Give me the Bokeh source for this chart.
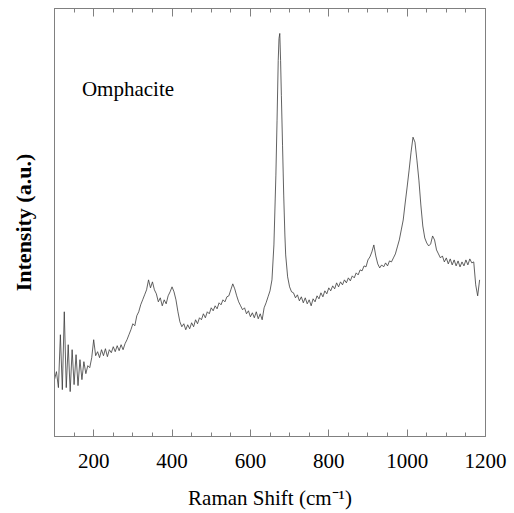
from bokeh.plotting import figure
from bokeh.models import Range1d, LinearAxis, SingleIntervalTicker, FixedTicker, Label
from bokeh.embed import file_html
from bokeh.resources import INLINE

# Raman shift grid (cm^-1)
shift_low = list(range(100, 665, 5))
shift_peak = [665, 668, 671, 673, 675, 677, 679, 682, 685, 688]
shift_high = list(range(690, 1190, 5))

# Intensity (a.u.)
int_low = [
    57, 65, 49, 102, 47, 125, 49, 92, 45, 87, 52, 82, 51, 77, 57, 75, 63, 71, 69, 79,
    97, 81, 85, 79, 87, 81, 88, 80, 87, 84, 90, 85, 91, 86, 92, 87, 93, 97, 102, 107,
    113, 111, 121, 125, 132, 137, 142, 147, 157, 149, 155, 147, 143, 135, 139, 131, 137, 133, 141, 145,
    150, 145, 137, 125, 115, 110, 113, 107, 112, 108, 114, 110, 117, 113, 119, 117, 123, 119, 125, 123,
    129, 126, 131, 128, 134, 132, 137, 135, 140, 141, 147, 153, 148, 141, 135, 131, 127, 129, 123, 126,
    120, 124, 119, 125, 118, 123, 117, 129, 134, 140, 146, 157, 192,
]
int_peak = [262, 317, 377, 399, 404, 377, 342, 292, 242, 202]
int_high = [
    182, 160, 150, 145, 144, 139, 142, 136, 140, 134, 139, 133, 137, 131, 138, 135, 141, 138, 144, 140,
    146, 143, 149, 146, 151, 148, 154, 150, 155, 152, 157, 154, 159, 156, 161, 159, 164, 162, 167, 166,
    171, 170, 177, 180, 185, 192, 181, 173, 169, 172, 170, 174, 171, 176, 175, 179, 183, 190, 197, 207,
    217, 234, 250, 267, 285, 300, 295, 277, 257, 232, 211, 199, 194, 191, 193, 201, 197, 187, 183, 179,
    181, 175, 179, 173, 178, 172, 177, 171, 176, 170, 175, 171, 177, 172, 178, 174, 175, 152, 141, 157,
]

shift = shift_low + shift_peak + shift_high
intensity = int_low + int_peak + int_high

major_ticks = [200, 400, 600, 800, 1000, 1200]
minor_ticks = [150, 250, 300, 350, 450, 500, 550, 650, 700, 750, 850, 900, 950, 1050, 1100, 1150]
sample_name = "Omphacite"

FONT = "Liberation Serif"
FRAME = "#808080"

p = figure(
    width=512, height=512,
    x_range=Range1d(100, 1200), y_range=Range1d(0, 429),
    output_backend="svg", toolbar_location=None,
    min_border_left=54, min_border_right=27, min_border_top=8, min_border_bottom=75,
)
p.background_fill_color = "white"
p.border_fill_color = "white"
p.outline_line_color = FRAME
p.xgrid.visible = False
p.ygrid.visible = False

p.line(shift, intensity, line_color="#3a3a3a", line_width=0.8)

# bottom axis
xa = p.xaxis[0]
xa.ticker = SingleIntervalTicker(interval=200, num_minor_ticks=4)
xa.axis_line_color = FRAME
xa.major_tick_line_color = FRAME
xa.minor_tick_line_color = FRAME
xa.major_tick_in = 7
xa.major_tick_out = 0
xa.minor_tick_in = 4
xa.minor_tick_out = 0
xa.major_label_text_font = FONT
xa.major_label_text_font_size = "21px"
xa.major_label_text_color = "black"
xa.major_label_standoff = 17
xa.axis_label = "Raman Shift (cm\u207b\u00b9)"
xa.axis_label_text_font = FONT
xa.axis_label_text_font_size = "21px"
xa.axis_label_text_font_style = "normal"
xa.axis_label_text_color = "black"
xa.axis_label_standoff = 15

# top axes: ticks only (short ones first, then the long ones)
for ticks, length in ((minor_ticks, 4), (major_ticks, 8)):
    ta = LinearAxis(ticker=FixedTicker(ticks=[], minor_ticks=ticks))
    ta.axis_line_color = FRAME
    ta.minor_tick_line_color = FRAME
    ta.minor_tick_in = length
    ta.minor_tick_out = 0
    ta.major_tick_out = 0
    ta.major_label_standoff = 0
    p.add_layout(ta, "above")

# left axis: label only
ya = p.yaxis[0]
ya.ticker = FixedTicker(ticks=[], minor_ticks=[])
ya.axis_line_color = FRAME
ya.major_tick_out = 0
ya.major_tick_in = 0
ya.major_label_standoff = 0
ya.axis_label = "Intensity (a.u.)"
ya.axis_label_text_font = FONT
ya.axis_label_text_font_size = "22px"
ya.axis_label_text_font_style = "bold"
ya.axis_label_text_color = "black"
ya.axis_label_standoff = 19

p.add_layout(Label(x=170, y=348, text=sample_name, text_font=FONT,
                   text_font_size="21px", text_color="black",
                   text_baseline="alphabetic", text_align="left"))

open("out.html", "w").write(file_html(p, INLINE))
